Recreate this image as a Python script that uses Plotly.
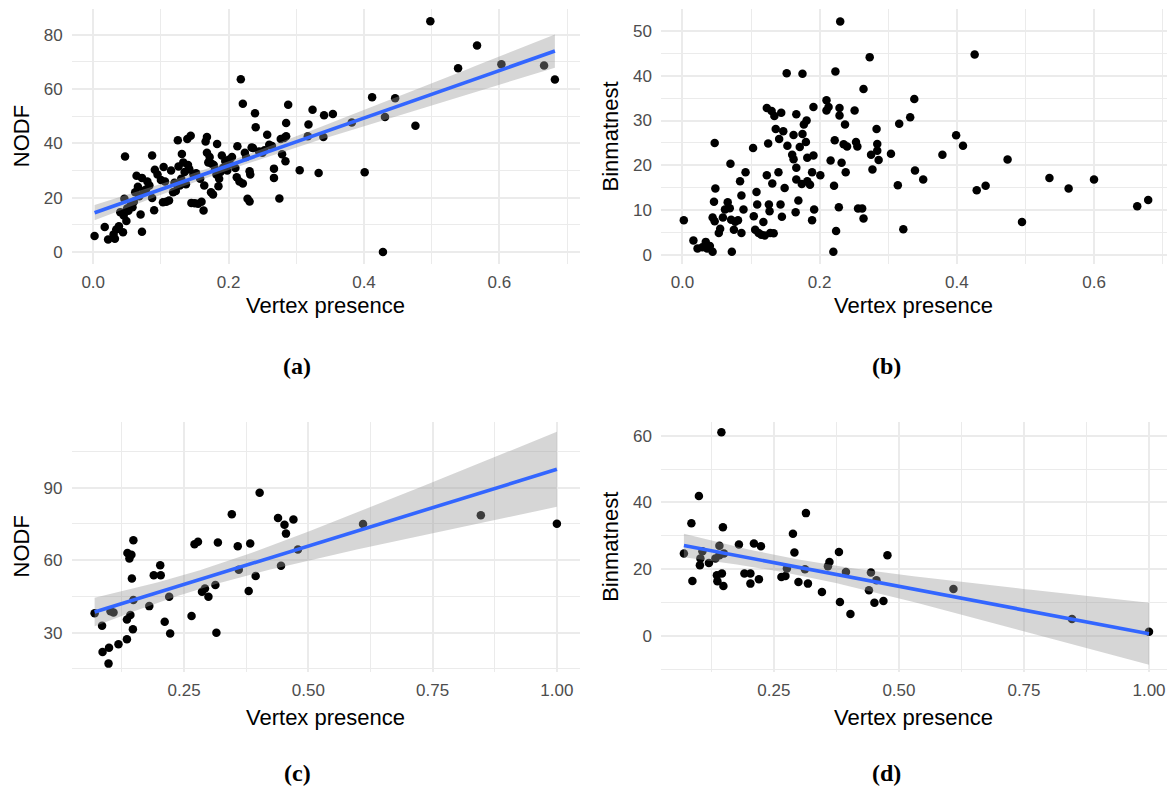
import numpy as np
import plotly.graph_objects as go

# ---------------- data ----------------
# (a) NODF vs vertex presence
xa = [0.002, 0.017, 0.022, 0.030, 0.032, 0.034, 0.038, 0.040, 0.044, 0.047, 0.046, 0.049, 0.045, 0.050,
      0.052, 0.055, 0.058, 0.060, 0.062, 0.064, 0.066, 0.068, 0.070, 0.072, 0.072, 0.074, 0.078, 0.080,
      0.083, 0.087, 0.087, 0.090, 0.091, 0.095, 0.100, 0.104, 0.106, 0.103, 0.108, 0.112, 0.115, 0.118,
      0.120, 0.122, 0.125, 0.126, 0.128, 0.130, 0.131, 0.133, 0.135, 0.137, 0.139, 0.140, 0.142, 0.144,
      0.145, 0.148, 0.150, 0.152, 0.155, 0.158, 0.160, 0.163, 0.164, 0.166, 0.168, 0.168, 0.170, 0.172,
      0.174, 0.175, 0.177, 0.178, 0.180, 0.183, 0.182, 0.185, 0.186, 0.188, 0.190, 0.192, 0.195, 0.198,
      0.200, 0.202, 0.205, 0.210, 0.213, 0.212, 0.216, 0.218, 0.221, 0.221, 0.224, 0.226, 0.228, 0.231,
      0.231, 0.232, 0.234, 0.236, 0.239, 0.240, 0.245, 0.250, 0.253, 0.257, 0.260, 0.264, 0.267, 0.267,
      0.275, 0.277, 0.279, 0.282, 0.284, 0.285, 0.285, 0.288, 0.305, 0.317, 0.318, 0.324, 0.333, 0.340,
      0.341, 0.354, 0.382, 0.401, 0.412, 0.428, 0.431, 0.446, 0.476, 0.498, 0.539, 0.567, 0.603, 0.666,
      0.682]
ya = [5.9, 9.2, 4.6, 6.5, 4.9, 8.3, 9.5, 14.7, 7.3, 35.2, 19.6, 11.4, 13.5, 16.0,
      15.2, 17.0, 16.5, 18.5, 22.0, 28.1, 24.0, 20.5, 13.8, 7.5, 27.3, 22.5, 23.0, 26.0,
      24.5, 35.5, 19.9, 15.4, 30.3, 28.5, 26.5, 31.3, 26.0, 18.3, 18.5, 19.0, 30.0, 22.0,
      25.5, 22.5, 41.1, 31.5, 24.5, 27.0, 36.1, 33.0, 29.5, 25.0, 41.6, 32.0, 30.5, 42.8,
      18.1, 28.5, 18.0, 29.0, 17.8, 27.0, 18.5, 15.3, 24.5, 40.7, 42.3, 36.5, 33.0, 35.0,
      22.0, 32.5, 21.2, 32.0, 30.5, 39.8, 28.5, 24.2, 27.0, 29.5, 35.5, 31.0, 33.5, 30.0,
      34.0, 32.5, 35.0, 30.9, 38.9, 27.5, 26.0, 63.6, 25.2, 54.6, 36.5, 35.0, 19.6, 18.6,
      29.7, 28.5, 38.5, 38.3, 51.1, 45.9, 37.0, 36.5, 37.5, 43.2, 39.5, 39.0, 30.7, 27.3,
      19.7, 41.6, 36.0, 42.0, 33.4, 47.5, 42.6, 54.2, 30.1, 42.6, 46.9, 52.4, 29.1, 42.3,
      50.3, 50.8, 47.7, 29.4, 57.0, 0.0, 49.7, 56.6, 46.5, 84.9, 67.6, 76.0, 69.1, 68.6,
      63.5]

# (b) Binmatnest vs vertex presence
xb = [0.002, 0.016, 0.022, 0.029, 0.034, 0.036, 0.040, 0.044, 0.047, 0.048, 0.046, 0.044, 0.047, 0.053,
      0.055, 0.059, 0.062, 0.066, 0.069, 0.070, 0.072, 0.071, 0.075, 0.077, 0.081, 0.084, 0.086, 0.086,
      0.089, 0.092, 0.103, 0.104, 0.106, 0.108, 0.109, 0.111, 0.115, 0.118, 0.120, 0.123, 0.123, 0.125,
      0.126, 0.127, 0.128, 0.130, 0.131, 0.133, 0.134, 0.136, 0.140, 0.141, 0.143, 0.144, 0.145, 0.147,
      0.149, 0.152, 0.153, 0.160, 0.162, 0.162, 0.165, 0.166, 0.166, 0.166, 0.169, 0.171, 0.174, 0.175,
      0.175, 0.177, 0.180, 0.181, 0.182, 0.182, 0.186, 0.189, 0.189, 0.191, 0.191, 0.192, 0.201, 0.210,
      0.210, 0.213, 0.216, 0.220, 0.221, 0.222, 0.223, 0.224, 0.228, 0.229, 0.229, 0.230, 0.232, 0.235,
      0.237, 0.238, 0.240, 0.251, 0.253, 0.255, 0.256, 0.262, 0.264, 0.264, 0.273, 0.275, 0.277, 0.283,
      0.284, 0.284, 0.286, 0.304, 0.314, 0.316, 0.322, 0.332, 0.338, 0.339, 0.351, 0.379, 0.399, 0.409,
      0.426, 0.429, 0.442, 0.474, 0.495, 0.535, 0.563, 0.600, 0.663, 0.679]
yb = [7.8, 3.3, 1.5, 1.8, 3.0, 1.5, 2.1, 0.8, 25.0, 14.9, 11.9, 8.4, 7.6, 5.0,
      5.9, 8.4, 10.2, 11.8, 10.5, 20.4, 0.8, 7.9, 5.7, 7.5, 7.8, 16.5, 13.3, 5.0,
      10.2, 18.5, 23.9, 8.7, 5.7, 14.1, 11.3, 5.0, 4.6, 7.4, 4.4, 17.8, 32.8, 24.9,
      11.3, 9.8, 5.0, 32.1, 16.0, 4.9, 31.0, 28.1, 18.5, 25.9, 11.3, 31.7, 8.6, 27.6,
      15.0, 40.5, 24.4, 22.4, 26.8, 21.4, 9.6, 16.9, 19.5, 31.4, 12.2, 24.1, 15.9, 40.4,
      27.0, 29.1, 25.2, 30.0, 21.7, 16.5, 15.7, 7.8, 18.5, 33.0, 22.2, 10.2, 17.8, 34.5,
      32.2, 33.0, 21.1, 0.8, 15.5, 25.6, 40.9, 5.4, 10.7, 32.8, 31.1, 52.0, 20.6, 24.7,
      29.1, 18.5, 24.2, 32.2, 25.2, 24.2, 10.4, 10.4, 8.2, 37.0, 44.1, 22.4, 19.1, 28.1,
      24.8, 23.3, 21.2, 22.6, 15.6, 29.3, 5.8, 30.7, 34.8, 18.9, 16.9, 22.4, 26.7, 24.4,
      44.7, 14.5, 15.5, 21.3, 7.4, 17.2, 14.9, 16.9, 10.9, 12.3]

# (c) NODF vs vertex presence (second data set)
xc = [0.070, 0.085, 0.086, 0.099, 0.098, 0.102, 0.108, 0.118, 0.135, 0.135, 0.136, 0.140, 0.142, 0.144,
      0.145, 0.147, 0.148, 0.148, 0.180, 0.189, 0.202, 0.203, 0.211, 0.220, 0.222, 0.265, 0.271, 0.278,
      0.286, 0.292, 0.299, 0.313, 0.315, 0.318, 0.346, 0.358, 0.360, 0.380, 0.383, 0.394, 0.402, 0.439,
      0.445, 0.452, 0.455, 0.470, 0.479, 0.610, 0.847, 1.000]
yc = [38.0, 32.9, 22.0, 23.8, 17.2, 38.9, 38.4, 25.2, 27.3, 35.5, 63.0, 60.7, 37.3, 62.3,
      52.4, 31.4, 68.3, 43.5, 41.0, 53.8, 57.9, 53.8, 34.5, 44.9, 29.7, 36.9, 66.6, 67.6,
      46.9, 48.3, 44.9, 49.7, 30.0, 67.3, 79.0, 65.8, 56.1, 47.3, 66.9, 53.5, 87.9, 77.5,
      57.7, 74.7, 71.0, 76.8, 64.4, 75.0, 78.6, 75.1]

# (d) Binmatnest vs vertex presence (second data set)
xd = [0.070, 0.085, 0.087, 0.100, 0.102, 0.103, 0.107, 0.120, 0.133, 0.136, 0.137, 0.141, 0.141, 0.145,
      0.146, 0.148, 0.149, 0.150, 0.180, 0.191, 0.203, 0.203, 0.210, 0.220, 0.224, 0.265, 0.273, 0.276,
      0.288, 0.291, 0.299, 0.312, 0.314, 0.318, 0.346, 0.358, 0.361, 0.380, 0.382, 0.394, 0.403, 0.440,
      0.444, 0.451, 0.455, 0.469, 0.477, 0.609, 0.846, 1.000]
yd = [24.7, 33.8, 16.5, 41.9, 21.2, 23.2, 25.4, 21.9, 23.2, 18.2, 16.4, 27.0, 24.2, 61.0,
      18.7, 32.6, 15.0, 24.7, 27.4, 18.7, 18.7, 15.7, 27.7, 17.0, 26.9, 17.7, 18.0, 20.2,
      30.6, 25.0, 16.2, 20.0, 36.8, 15.7, 13.2, 20.9, 22.2, 25.2, 10.2, 19.2, 6.6, 13.7,
      19.0, 10.0, 16.7, 10.5, 24.2, 14.1, 5.1, 1.3]

X_TITLE = "Vertex presence"
Y_TITLES = ["NODF", "Binmatnest", "NODF", "Binmatnest"]
CAPTIONS = ["(a)", "(b)", "(c)", "(d)"]

# ---------------- helpers ----------------
W, H = 1167, 792


def t975(df):
    z = 1.959963985
    return z + (z**3 + z) / (4 * df) + (5 * z**5 + 16 * z**3 + 3 * z) / (96 * df**2)


def lm_band(x, y, n=80):
    x = np.asarray(x, float)
    y = np.asarray(y, float)
    b, a = np.polyfit(x, y, 1)
    res = y - (a + b * x)
    nn = len(x)
    s = np.sqrt(np.sum(res**2) / (nn - 2))
    xm = x.mean()
    sxx = np.sum((x - xm) ** 2)
    gx = np.linspace(x.min(), x.max(), n)
    fit = a + b * gx
    se = s * np.sqrt(1 / nn + (gx - xm) ** 2 / sxx)
    t = t975(nn - 2)
    return gx, fit, fit - t * se, fit + t * se


def px2fx(p):
    return p / W


def py2fy(p):
    return 1 - p / H


# panel pixel boxes: (left, right, top, bottom)
boxes = [
    (71.7, 579.6, 9.5, 264.3),
    (660.9, 1167.0, 9.5, 264.3),
    (71.5, 580.0, 423.3, 673.3),
    (660.9, 1167.0, 423.3, 673.3),
]
xranges = [[-0.0318, 0.7185], [-0.0314, 0.7064], [0.0235, 1.0465], [0.024, 1.036]]
yranges = [[-4.25, 89.25], [-1.84, 54.7], [13.9, 117.1], [-10.63, 64.0]]
xticks = [(0, 0.2, 0.1, 0, ".1f"), (0, 0.2, 0.1, 0, ".1f"),
          (0, 0.25, 0.25, 0.125, ".2f"), (0, 0.25, 0.25, 0.125, ".2f")]
yticks = [(0, 20, 10, 0), (0, 10, 5, 0), (0, 30, 15, 0), (0, 20, 10, 0)]
xtitle_off = [42.4, 42.4, 45.7, 45.7]

datasets = [(xa, ya, True), (xb, yb, False), (xc, yc, True), (xd, yd, True)]

GRID = "#EBEBEB"
TICKC = "#4D4D4D"
FONT = "Liberation Sans, Arial, sans-serif"

fig = go.Figure()
layout = dict(
    width=W, height=H,
    margin=dict(l=0, r=0, t=0, b=0),
    paper_bgcolor="white", plot_bgcolor="white",
    showlegend=False,
    font=dict(family=FONT, color=TICKC, size=17),
)
annotations = []

for i, ((x, y, smooth), box) in enumerate(zip(datasets, boxes)):
    k = "" if i == 0 else str(i + 1)
    xr, yr = "x" + k, "y" + k
    l, r, t, b = box
    fig.add_trace(go.Scatter(x=x, y=y, mode="markers", xaxis=xr, yaxis=yr,
                             marker=dict(color="black", size=8.5, line=dict(width=0)),
                             hoverinfo="skip"))
    if smooth:
        gx, fit, lo, hi = lm_band(x, y)
        fig.add_trace(go.Scatter(x=np.concatenate([gx, gx[::-1]]),
                                 y=np.concatenate([hi, lo[::-1]]),
                                 mode="lines", fill="toself", xaxis=xr, yaxis=yr,
                                 fillcolor="rgba(153,153,153,0.4)",
                                 line=dict(width=0), hoverinfo="skip"))
        fig.add_trace(go.Scatter(x=gx, y=fit, mode="lines", xaxis=xr, yaxis=yr,
                                 line=dict(color="#3366FF", width=3.6), hoverinfo="skip"))
    x0, dx, mdx, mt0, fmt = xticks[i]
    y0, dy, mdy, mty = yticks[i]
    layout["xaxis" + k] = dict(
        domain=[px2fx(l), px2fx(r)], range=xranges[i], anchor=yr,
        tick0=x0, dtick=dx, tickformat=fmt, showline=False, zeroline=False,
        ticks="", showgrid=True, gridcolor=GRID, gridwidth=1.7,
        tickfont=dict(size=17, color=TICKC, family=FONT), ticklabelstandoff=6,
        minor=dict(tick0=mt0, dtick=mdx, showgrid=True, gridcolor=GRID, gridwidth=0.9),
        fixedrange=True,
    )
    layout["yaxis" + k] = dict(
        domain=[py2fy(b), py2fy(t)], range=yranges[i], anchor=xr,
        tick0=y0, dtick=dy, showline=False, zeroline=False,
        ticks="", showgrid=True, gridcolor=GRID, gridwidth=1.7,
        tickfont=dict(size=17, color=TICKC, family=FONT), ticklabelstandoff=8,
        minor=dict(tick0=mty, dtick=mdy, showgrid=True, gridcolor=GRID, gridwidth=0.9),
        fixedrange=True,
    )
    # x title
    annotations.append(dict(text=X_TITLE, xref="paper", yref="paper",
                            x=px2fx((l + min(r, l + 508)) / 2), y=py2fy(b + xtitle_off[i]),
                            xanchor="center", yanchor="middle", showarrow=False,
                            font=dict(size=22, color="black", family=FONT)))
    # y title
    annotations.append(dict(text=Y_TITLES[i], xref="paper", yref="paper",
                            x=px2fx(l - 50), y=py2fy((t + b) / 2), textangle=-90,
                            xanchor="center", yanchor="middle", showarrow=False,
                            font=dict(size=22, color="black", family=FONT)))
    # caption
    cap_y = 367 if i < 2 else 775
    cap_x = 297 if i % 2 == 0 else 886
    annotations.append(dict(text="<b>" + CAPTIONS[i] + "</b>", xref="paper", yref="paper",
                            x=px2fx(cap_x), y=py2fy(cap_y),
                            xanchor="center", yanchor="middle", showarrow=False,
                            font=dict(size=24, color="black", family="Liberation Serif, serif")))

layout["annotations"] = annotations
fig.update_layout(**layout)
fig.write_html("out.html")
